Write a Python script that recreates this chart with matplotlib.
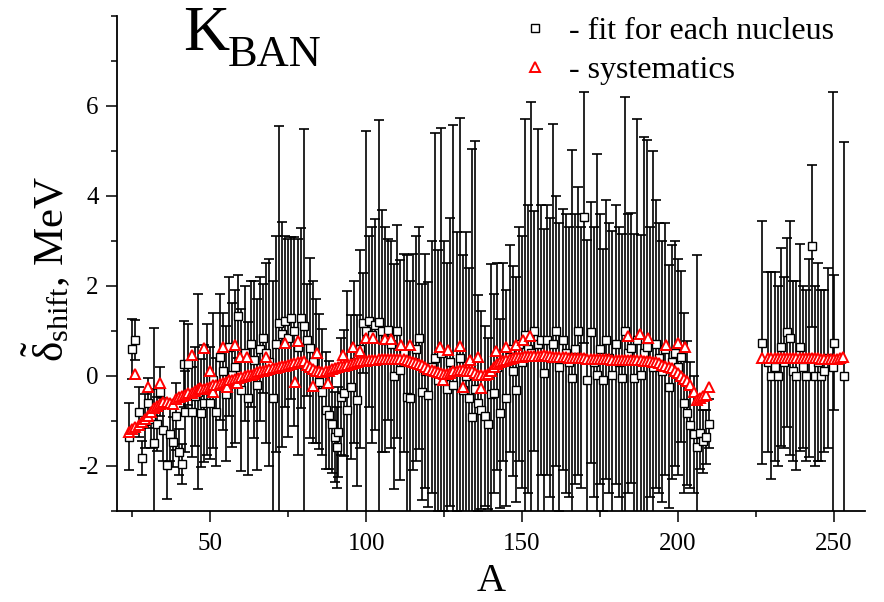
import matplotlib
matplotlib.use("Agg")
import matplotlib.pyplot as plt
from matplotlib.ticker import MultipleLocator

plt.rcParams['font.family'] = ['Liberation Serif', 'DejaVu Serif']
plt.rcParams['mathtext.fontset'] = 'custom'
plt.rcParams['mathtext.rm'] = 'Liberation Serif'
plt.rcParams['mathtext.it'] = 'Liberation Serif:italic'
plt.rcParams['axes.unicode_minus'] = False

# ---- fit for each nucleus: mass number, shift value, uncertainty (MeV) ----
fit_A = [24, 25, 26, 27, 28, 29, 30, 31, 32, 33, 34, 35, 36, 37, 38, 39, 40, 41, 41.5, 42,
         43, 44, 45, 46, 47, 48, 49, 50, 51, 52, 53, 54, 55, 56, 57, 58, 59, 60, 61, 62,
         63, 64, 65, 66, 67, 68, 69, 70, 71, 72, 73, 74, 75, 76, 77, 78, 79, 80, 81, 82,
         83, 84, 85, 86, 87, 88, 89, 90, 90.5, 91, 92, 93, 94, 95, 96, 97, 98, 99, 100, 101,
         102, 103, 104, 105, 106, 107, 108, 109, 110, 111, 112, 113, 114, 115, 116, 117, 118, 119, 120, 121,
         122, 123, 124, 125, 126, 127, 128, 129, 130, 131, 132, 133, 134, 135, 136, 137, 138, 139, 140, 141,
         142, 143, 144, 145, 146, 147, 148, 149, 150, 151, 152, 153, 154, 155, 156, 157, 158, 159, 160, 161,
         162, 163, 164, 165, 166, 167, 168, 169, 170, 171, 172, 173, 174, 175, 176, 177, 178, 179, 180, 181,
         182, 183, 184, 185, 186, 187, 188, 189, 190, 191, 192, 193, 194, 195, 196, 197, 198, 199, 200, 201,
         202, 203, 204, 205, 206, 207, 208, 209, 210,
         227, 229, 230, 231, 232, 233, 234, 235, 236, 237, 238, 239, 240, 241, 242, 243, 244, 245, 246, 247,
         248, 249.6, 250.2, 253.3]
fit_val = [-1.35, 0.60, 0.80, -0.80, -1.82, -1.00, -0.60, -0.95, -1.49, -1.06, -0.35, -1.20, -1.98, -1.28, -1.47, -0.90, -1.69, -1.96, 0.26, -0.80,
           0.26, -0.80, -0.45, -0.35, -0.83, -0.61, -0.30, -0.60, -0.10, -0.80, 0.43, 0.10, -0.40, 0.65, 0.02, 0.20, 1.32, -0.31, 0.50, -0.50,
           0.70, 0.36, -0.20, 0.60, 0.84, 0.50, 0.30, -0.50, 0.70, 1.18, 0.92, 1.21, 0.84, 1.29, 0.99, 0.65, 1.29, 1.10, 0.80, 0.62,
           0.30, 0.10, -0.13, -0.35, -0.76, -0.87, -1.06, -1.35, -1.58, -1.24, -0.46, -0.39, -0.76, -0.24, 0.30, -0.54, 0.60, 1.18, 1.00, 1.21,
           0.90, 1.14, 1.20, 1.00, 0.80, 1.03, 0.70, -0.01, 0.99, 0.13, 0.50, -0.46, -0.50, 0.30, 0.60, 0.84, -0.35, 0.10, -0.42, 0.20,
           0.40, -0.10, 0.50, 0.00, -0.30, 0.30, -0.20, 0.10, 0.40, -0.31, 0.00, -0.50, -0.91, -0.30, -0.60, -0.76, -0.90, -1.06, -0.40, -0.39,
           0.20, -0.83, 0.30, -0.50, 0.60, 0.10, -0.31, 0.70, 0.30, 0.90, 0.60, 0.50, 1.00, 0.70, 0.80, 0.06, 0.80, 0.40, 0.70, 0.99,
           0.20, 0.80, 0.50, 0.30, -0.05, 0.60, 0.99, 0.40, 3.52, -0.09, 0.97, 0.30, 0.02, 0.60, -0.09, 0.80, 0.40, 0.02, 0.70, 0.30,
           -0.05, 1.00, 0.50, 0.62, -0.05, 0.80, 0.02, 0.50, 0.65, 0.30, 0.20, 0.70, 0.40, 0.10, 0.60, -0.24, 0.30, 0.50, 0.20, 0.43,
           -0.60, -0.83, -1.10, -1.30, -1.58, -1.27, -1.45, -1.35, -1.06,
           0.74, 0.30, 0.00, 0.20, 0.00, 0.65, 0.30, 0.97, 0.84, 0.10, 0.00, 0.64, 0.20, 0.00, 0.40, 2.88, 0.00, 0.30, 0.00, 0.10,
           0.40, 0.20, 0.74, 0.00]
fit_err = [0.75, 0.67, 0.45, 0.55, 0.37, 0.60, 0.55, 0.65, 2.56, 0.60, 0.55, 0.70, 0.75, 0.60, 0.55, 0.75, 0.50, 0.45, 0.95, 0.90,
           0.90, 1.00, 1.10, 2.16, 1.20, 1.30, 1.45, 1.25, 1.50, 1.20, 1.40, 1.30, 1.50, 1.55, 1.60, 1.70, 0.93, 1.80, 1.50, 1.70,
           1.40, 1.75, 1.90, 1.60, 1.21, 2.00, 2.30, 2.60, 2.40, 4.38, 2.50, 1.90, 2.20, 1.80, 2.10, 2.40, 2.00, 4.38, 1.25, 2.00,
           1.80, 1.60, 1.50, 1.40, 1.30, 1.20, 1.10, 1.00, 0.90, 1.00, 1.30, 1.40, 2.64, 1.60, 1.80, 1.90, 2.20, 1.11, 4.43, 1.90,
           2.40, 2.34, 4.48, 2.68, 2.50, 2.02, 2.30, 2.50, 2.37, 2.44, 2.20, 3.15, 2.60, 2.40, 2.50, 2.47, 2.40, 2.60, 2.50, 2.80,
           4.99, 2.90, 5.01, 3.00, 2.80, 3.20, 5.78, 3.10, 5.33, 3.00, 3.20, 2.90, 5.94, 5.51, 2.40, 2.20, 2.00, 1.90, 2.89, 2.20,
           2.30, 2.10, 2.20, 2.40, 2.30, 2.33, 2.50, 2.60, 2.80, 4.81, 3.20, 5.59, 2.67, 4.79, 3.00, 3.20, 3.00, 3.10, 4.90, 3.00,
           3.20, 2.90, 3.10, 3.00, 5.06, 3.00, 3.20, 2.90, 2.79, 3.10, 2.90, 3.00, 4.90, 3.00, 2.90, 3.10, 3.00, 3.20, 3.10, 3.00,
           3.20, 5.20, 3.10, 3.00, 3.20, 4.90, 3.10, 4.80, 4.60, 3.00, 4.80, 3.20, 3.00, 2.90, 2.80, 2.70, 2.60, 2.50, 2.40, 1.90,
           2.00, 1.60, 1.40, 1.30, 4.26, 0.80, 0.70, 0.60, 0.55,
           2.70, 2.00, 2.30, 2.10, 2.00, 2.20, 1.90, 2.10, 2.60, 2.00, 2.10, 2.30, 1.80, 1.90, 2.20, 1.80, 2.00, 2.20, 1.90, 1.80,
           2.00, 6.10, 1.50, 5.20]

# ---- systematics ----
sys_A = [24, 25, 25.9, 26, 27, 28, 29, 29.9, 30, 31, 32, 33, 33.9, 34, 35, 36, 37, 38, 39, 40,
         41, 42, 43, 44, 44, 45, 46, 46.7, 47, 48, 48, 49, 49.9, 50, 51, 51, 52, 53, 54, 54.2,
         55, 55.3, 56, 57, 57.9, 58, 58.5, 59, 59.5, 60, 61, 61.9, 62, 63, 64, 65, 66, 67, 68, 68,
         69, 70, 71, 72, 73, 74, 74, 75, 76, 77, 77.1, 78, 78, 79, 80, 81, 82, 83, 83, 84,
         84.1, 85, 86, 87, 87.8, 88, 89, 90, 91, 92, 92.6, 93, 94, 95, 95.8, 96, 97, 98, 98, 99,
         100, 100.1, 101, 102, 102.2, 103, 104, 105, 106, 106, 107, 108, 108.1, 109, 110, 111, 111.3, 112, 113, 114,
         114, 115, 116, 117, 118, 119, 120, 121, 122, 123, 123.6, 124, 124.7, 125, 126, 126.3, 127, 128, 129, 130,
         130, 131, 131.1, 132, 133, 133.2, 134, 135, 135.9, 136, 137, 137, 138, 139, 140, 141, 141.8, 142, 143, 144,
         144.8, 145, 146, 147, 148, 148.2, 149, 150, 150.3, 151, 152, 152.5, 153, 154, 155, 156, 157, 158, 159, 160,
         161, 162, 163, 164, 165, 166, 167, 168, 169, 170, 171, 172, 173, 174, 175, 176, 177, 178, 179, 180,
         181, 182, 183, 184, 184, 185, 186, 187, 187.7, 188, 189, 190, 190.4, 191, 192, 193, 194, 195, 196, 196.3,
         197, 198, 199, 200, 200, 201, 202, 202.2, 203, 204, 205, 206, 207, 208, 209, 210,
         227, 229, 230, 231, 232, 233, 234, 235, 236, 237, 238, 239, 240, 241, 242, 243, 244, 245, 246, 247,
         248, 249, 250, 251, 252, 253]
sys_val = [-1.24, -1.18, 0.04, -1.13, -1.08, -1.02, -0.95, -0.24, -0.88, -0.80, -0.72, -0.66, -0.15, -0.62, -0.58, -0.57, -0.60, -0.62, -0.52, -0.47,
           -0.45, -0.42, -0.39, -0.37, 0.47, -0.33, -0.30, -0.27, -0.28, -0.30, 0.62, -0.27, 0.10, -0.24, -0.20, -0.35, -0.20, -0.18, -0.15, 0.64,
           -0.13, -0.24, -0.10, -0.08, 0.69, -0.06, -0.16, -0.04, 0.43, -0.02, 0.00, 0.43, 0.01, 0.02, 0.05, 0.08, 0.10, 0.12, 0.14, 0.43,
           0.16, 0.17, 0.18, 0.20, 0.22, 0.23, 0.73, 0.25, 0.27, 0.28, -0.13, 0.30, 0.77, 0.31, 0.32, 0.25, 0.20, 0.15, -0.22, 0.12,
           0.50, 0.10, 0.08, 0.10, -0.16, 0.12, 0.15, 0.17, 0.20, 0.22, 0.47, 0.21, 0.24, 0.27, 0.64, 0.28, 0.30, 0.32, 0.56, 0.33,
           0.34, 0.84, 0.35, 0.36, 0.84, 0.36, 0.37, 0.37, 0.37, 0.82, 0.37, 0.37, 0.82, 0.37, 0.38, 0.38, 0.69, 0.38, 0.36, 0.34,
           0.69, 0.31, 0.29, 0.27, 0.24, 0.20, 0.16, 0.13, 0.10, 0.08, 0.64, 0.06, -0.09, 0.05, 0.04, 0.58, 0.06, 0.10, 0.12, 0.13,
           0.67, 0.13, -0.24, 0.12, 0.11, 0.36, 0.10, 0.06, 0.43, 0.03, 0.02, -0.27, 0.01, 0.05, 0.12, 0.20, 0.56, 0.26, 0.30, 0.33,
           0.64, 0.36, 0.38, 0.40, 0.41, 0.69, 0.43, 0.43, 0.80, 0.44, 0.44, 0.89, 0.44, 0.44, 0.45, 0.45, 0.46, 0.45, 0.44, 0.43,
           0.42, 0.42, 0.41, 0.41, 0.40, 0.40, 0.39, 0.39, 0.39, 0.39, 0.38, 0.38, 0.38, 0.38, 0.38, 0.38, 0.37, 0.37, 0.36, 0.36,
           0.36, 0.36, 0.36, 0.36, 0.89, 0.36, 0.36, 0.35, 0.92, 0.35, 0.34, 0.33, 0.84, 0.32, 0.31, 0.30, 0.28, 0.25, 0.22, 0.69,
           0.19, 0.17, 0.12, 0.06, 0.73, 0.00, -0.06, 0.64, -0.12, -0.20, -0.35, -0.54, -0.48, -0.45, -0.42, -0.24,
           0.39, 0.40, 0.40, 0.40, 0.40, 0.40, 0.40, 0.40, 0.40, 0.40, 0.40, 0.39, 0.39, 0.39, 0.39, 0.39, 0.39, 0.39, 0.38, 0.38,
           0.38, 0.38, 0.38, 0.38, 0.39, 0.41]

x_ticks = [50, 100, 150, 200, 250]
y_ticks = [-2, 0, 2, 4, 6]

W, H = 884, 602
fig = plt.figure(figsize=(W / 100, H / 100), dpi=100)
ax = fig.add_axes([0.132, 0.1512, 0.8465, 0.8227])

ax.errorbar(fit_A, fit_val, yerr=fit_err, fmt='none', ecolor='black',
            elinewidth=1.2, capsize=3.8, capthick=1.2, zorder=2)
sq, = ax.plot(fit_A, fit_val, linestyle='none', marker='s', markersize=5.2,
              markerfacecolor='white', markeredgecolor='black', markeredgewidth=1.0,
              zorder=3, label='- fit for each nucleus')
tri, = ax.plot(sys_A, sys_val, linestyle='none', marker='^', markersize=7.2,
               markerfacecolor='white', markeredgecolor='red', markeredgewidth=1.4,
               zorder=4, label='- systematics')

ax.set_xlim(20, 260)
ax.set_ylim(-3, 8)
ax.set_xticks(x_ticks)
ax.set_yticks(y_ticks)
ax.xaxis.set_minor_locator(MultipleLocator(25))
ax.yaxis.set_minor_locator(MultipleLocator(1))
ax.tick_params(axis='x', which='major', pad=8)
ax.tick_params(axis='y', which='major', pad=5)
ax.tick_params(which='major', direction='out', length=8, width=1.1, labelsize=18)
ax.tick_params(which='minor', direction='out', length=4.5, width=1.1)
for s in ('top', 'right'):
    ax.spines[s].set_visible(False)
for s in ('left', 'bottom'):
    ax.spines[s].set_linewidth(1.3)

ax.set_xlabel('A', fontsize=29)
ax.xaxis.set_label_coords(0.5, -0.105)
ax.set_ylabel(r'$\tilde{\mathrm{\delta}}_{\mathrm{shift}}$, MeV', fontsize=31)
ax.yaxis.set_label_coords(-0.058, 0.49)

# panel title: K with a lowered BAN subscript
fig.text(183 / W, 1 - 50 / H, 'K', fontsize=46, ha='left', va='baseline')
fig.text(228 / W, 1 - 66 / H, 'BAN', fontsize=32, ha='left', va='baseline')

leg = fig.legend(handles=[sq, tri], loc='upper left', bbox_to_anchor=(527 / W, 1 - 17 / H),
                 frameon=False, fontsize=23, handlelength=0.5, handletextpad=0.8,
                 labelspacing=0.3, borderaxespad=0, borderpad=0)

fig.savefig('out.png', dpi=100)
